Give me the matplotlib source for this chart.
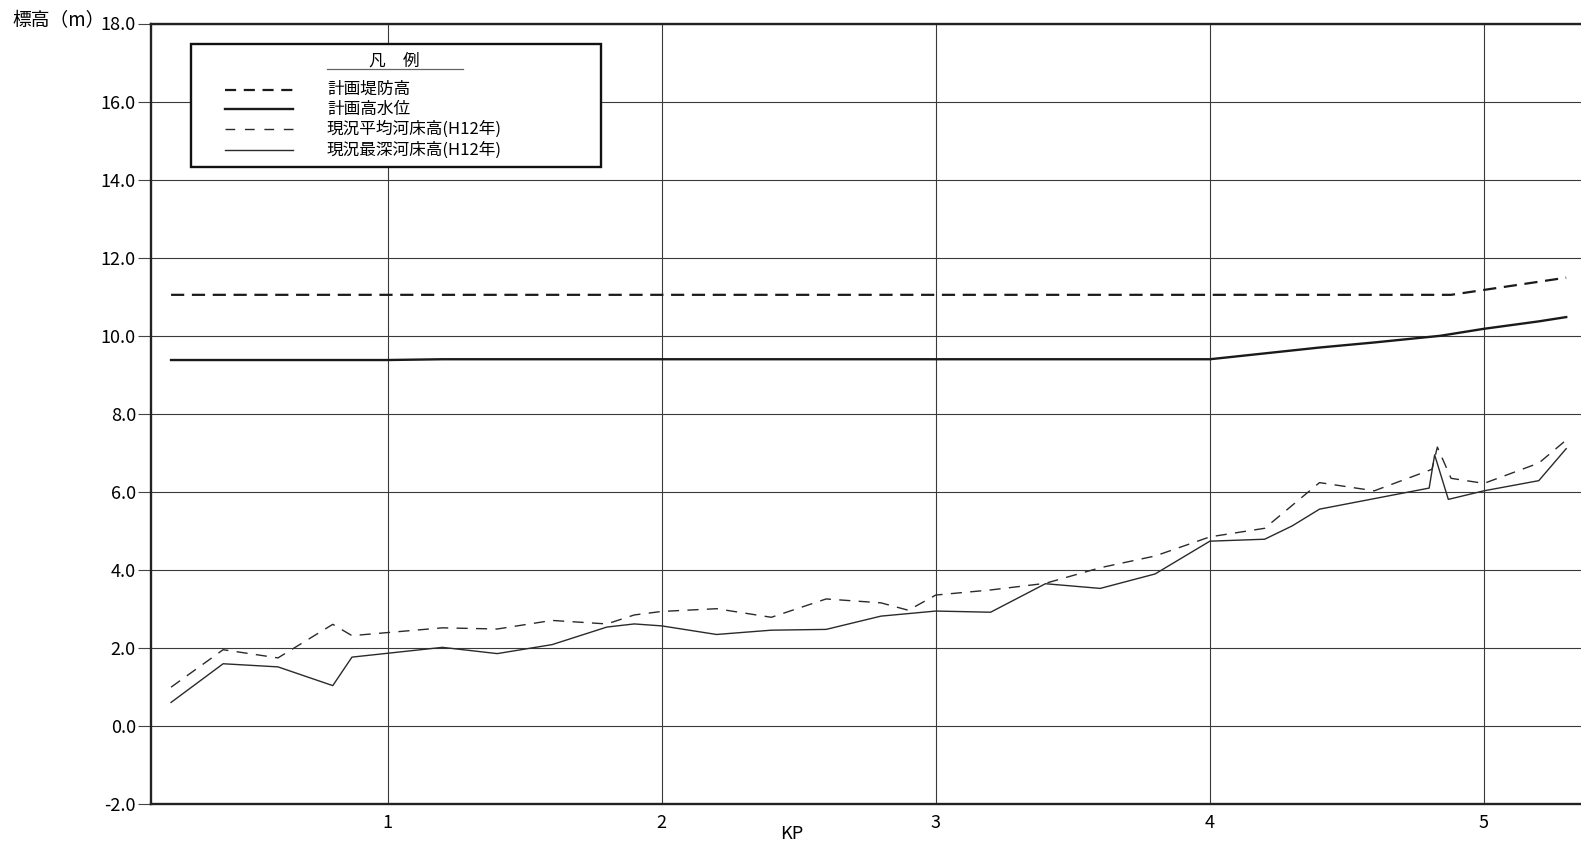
import matplotlib
matplotlib.use("Agg")
import matplotlib.pyplot as plt
from matplotlib.lines import Line2D
from matplotlib.patches import Rectangle

plt.rcParams['lines.scale_dashes'] = False
JP = ['Noto Sans CJK JP', 'DejaVu Sans']
NUM = ['Liberation Sans Narrow', 'Noto Sans CJK JP', 'DejaVu Sans']

# ---------------- data ----------------
kp_dike = [0.21, 4.88, 5.30]
dike_height = [11.05, 11.05, 11.49]          # 計画堤防高

kp_hwl = [0.21, 1.00, 1.20, 4.00, 4.20, 4.40, 4.60, 4.84, 5.00, 5.20, 5.30]
hwl = [9.38, 9.38, 9.40, 9.40, 9.55, 9.70, 9.83, 10.00, 10.18, 10.37, 10.48]   # 計画高水位

kp_avg = [0.21, 0.40, 0.60, 0.80, 0.87, 1.20, 1.40, 1.60, 1.80, 1.90, 2.00, 2.20,
          2.40, 2.60, 2.80, 2.90, 3.00, 3.20, 3.40, 3.60, 3.80, 4.00, 4.20, 4.40,
          4.60, 4.81, 4.83, 4.88, 5.00, 5.20, 5.30]
avg_bed = [1.00, 1.96, 1.75, 2.61, 2.32, 2.52, 2.49, 2.71, 2.62, 2.85, 2.94, 3.01,
           2.79, 3.26, 3.16, 2.97, 3.36, 3.49, 3.66, 4.06, 4.36, 4.85, 5.07, 6.24,
           6.03, 6.58, 7.15, 6.35, 6.22, 6.74, 7.33]   # 現況平均河床高(H12年)

kp_deep = [0.21, 0.40, 0.60, 0.80, 0.87, 1.20, 1.40, 1.60, 1.80, 1.90, 2.00, 2.20,
           2.40, 2.60, 2.80, 3.00, 3.20, 3.40, 3.60, 3.80, 4.00, 4.20, 4.30, 4.40,
           4.80, 4.82, 4.87, 5.00, 5.20, 5.30]
deep_bed = [0.61, 1.60, 1.52, 1.04, 1.77, 2.02, 1.86, 2.09, 2.54, 2.62, 2.57, 2.35,
            2.46, 2.48, 2.82, 2.95, 2.92, 3.65, 3.53, 3.90, 4.74, 4.79, 5.13, 5.56,
            6.10, 6.95, 5.81, 6.03, 6.29, 7.11]   # 現況最深河床高(H12年)

x_ticks = [1, 2, 3, 4, 5]
y_ticks = [-2, 0, 2, 4, 6, 8, 10, 12, 14, 16, 18]
y_ticklabels = ['-2.0', '0.0', '2.0', '4.0', '6.0', '8.0', '10.0', '12.0', '14.0', '16.0', '18.0']
legend_labels = ['計画堤防高', '計画高水位', '現況平均河床高(H12年)', '現況最深河床高(H12年)']

# ---------------- figure ----------------
W, H = 1581, 841
fig = plt.figure(figsize=(W / 100, H / 100), dpi=100)
L, R, T, B = 150.5, 1581, 23.5, 804.3
ax = fig.add_axes([L / W, 1 - B / H, (R - L) / W, (B - T) / H])

def fx(x):
    return x / W

def fy(y):
    return 1 - y / H

ax.set_xlim(0.135, 5.354)
ax.set_ylim(-2, 18)

ax.set_xticks(x_ticks)
ax.set_xticklabels([str(v) for v in x_ticks], family=NUM, fontsize=13)
ax.set_yticks(y_ticks)
ax.set_yticklabels(y_ticklabels, family=NUM, fontsize=13)
ax.tick_params(axis='x', length=0, pad=7)
ax.tick_params(axis='y', length=9.5, width=0.8, color='#444', pad=1)

ax.grid(True, color='#3a3a3a', linewidth=0.8)
ax.set_axisbelow(True)

for s in ['left', 'bottom', 'top']:
    ax.spines[s].set_linewidth(1.7)
    ax.spines[s].set_color('#222')
ax.spines['right'].set_visible(False)

# lines
ax.plot(kp_dike, dike_height, color='#1a1a1a', lw=1.6, dashes=(9.5, 5.5), zorder=3)
ax.plot(kp_hwl, hwl, color='#1a1a1a', lw=1.7, zorder=3)
ax.plot(kp_avg, avg_bed, color='#2a2a2a', lw=1.0, dashes=(8, 6), zorder=3)
ax.plot(kp_deep, deep_bed, color='#2a2a2a', lw=1.0, zorder=3)

# axis titles
fig.text(fx(12), fy(21), '標高（m）', family=JP, fontsize=13.5, ha='left', va='center')
fig.text(fx(792), fy(834), 'KP', family=NUM, fontsize=13, ha='center', va='center')

# ---------------- legend box ----------------
fig.add_artist(Rectangle((fx(191), fy(166.5)), fx(601) - fx(191), fy(43.5) - fy(166.5),
                         transform=fig.transFigure, facecolor='white', edgecolor='#111',
                         linewidth=1.7, zorder=5))
fig.text(fx(377), fy(61), '凡', family=JP, fontsize=12, ha='center', va='center', zorder=6)
fig.text(fx(411), fy(61), '例', family=JP, fontsize=12, ha='center', va='center', zorder=6)
fig.add_artist(Line2D([fx(326.5), fx(463)], [fy(68.5), fy(68.5)], transform=fig.transFigure,
                      color='#666', lw=0.9, zorder=6))
rows_y = [89.7, 109.2, 129.3, 150.0]
styles = [dict(color='#1a1a1a', lw=1.6, dashes=(8, 5.5)),
          dict(color='#1a1a1a', lw=1.7),
          dict(color='#2a2a2a', lw=1.0, dashes=(7, 7)),
          dict(color='#2a2a2a', lw=1.0)]
for yy, st, lab in zip(rows_y, styles, legend_labels):
    fig.add_artist(Line2D([fx(224.5), fx(292.5)], [fy(yy), fy(yy)], transform=fig.transFigure,
                          zorder=6, **st))
    fig.text(fx(327), fy(yy), lab, family=JP, fontsize=12, ha='left', va='center', zorder=6)

fig.savefig('out.png', dpi=100)
